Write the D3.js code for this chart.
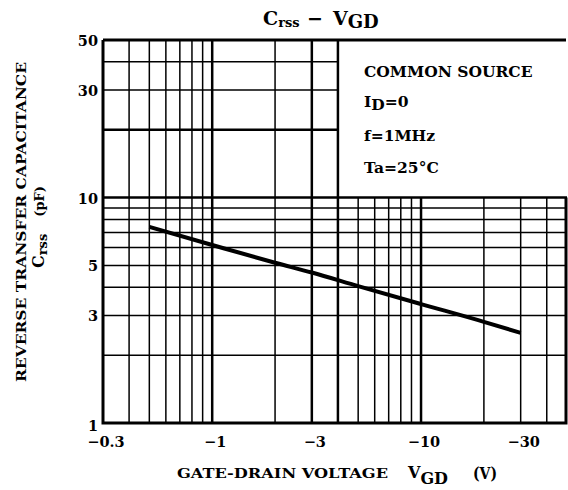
<!DOCTYPE html>
<html>
<head>
<meta charset="utf-8">
<script src="https://d3js.org/d3.v7.min.js"></script>
<style>
  body { margin: 0; background: #fff; }
  text { font-family: "DejaVu Serif", serif; font-weight: bold; fill: #000; }
</style>
</head>
<body>
<div id="chart"></div>
<script>
// data (|VGD| in volts, Crss in pF)
var vgd = [-0.5, -1, -2, -3, -5, -10, -20, -30];
var crss = [7.41, 6.16, 5.14, 4.65, 4.05, 3.37, 2.81, 2.51];

var xTicks = [-0.3, -1, -3, -10, -30];
var yTicks = [1, 3, 5, 10, 30, 50];
var xGrid = [0.4, 0.5, 0.6, 0.7, 0.8, 0.9, 1, 2, 3, 4, 5, 6, 7, 8, 9, 10, 20, 30, 40];
var yGrid = [2, 3, 4, 5, 6, 7, 8, 9, 10, 20, 30, 40];
var xMajor = [1, 3, 10];
var yMajor = [20];
var conditions = ["COMMON SOURCE", "I|D|=0", "f=1MHz", "Ta=25°C"];

var width = 568, height = 490;
var margin = { top: 40, right: 1, bottom: 67, left: 103 };

var svg = d3.select("#chart")
	.append("svg")
	.attr("width", width)
	.attr("height", height);

var x = d3.scaleLog()
	.domain([0.3, 50])
	.range([margin.left, width - margin.right]);
var y = d3.scaleLog()
	.domain([1, 50])
	.range([height - margin.bottom, margin.top]);

// legend box area (no grid there): |VGD| >= 4 and Crss >= 10
var boxX = x(4), boxY = y(10);

var grid = svg.append("g");
xGrid.forEach(function (v) {
	var top = v > 4 ? boxY : margin.top;
	grid.append("line")
		.attr("x1", x(v)).attr("x2", x(v))
		.attr("y1", top).attr("y2", y(1))
		.attr("stroke", "#000")
		.attr("stroke-width", xMajor.indexOf(v) >= 0 || v === 4 ? 2.5 : 1.5);
});
yGrid.forEach(function (c) {
	var right = c > 10 ? boxX : x(50);
	grid.append("line")
		.attr("x1", x(0.3)).attr("x2", right)
		.attr("y1", y(c)).attr("y2", y(c))
		.attr("stroke", "#000")
		.attr("stroke-width", yMajor.indexOf(c) >= 0 || c === 10 ? 2.5 : 1.5);
});

// frame
svg.append("path")
	.attr("d", "M" + x(0.3) + "," + y(50) + "H" + (x(50) - 1) + "M" + x(0.3) + "," + y(50) + "V" + y(1) + "H" + (x(50) - 1) + "V" + y(10))
	.attr("fill", "none")
	.attr("stroke", "#000")
	.attr("stroke-width", 3);

// curve
var pts = vgd.map(function (v, i) { return [Math.abs(v), crss[i]]; });
svg.append("path")
	.datum(pts)
	.attr("d", d3.line()
		.x(function (d) { return x(d[0]); })
		.y(function (d) { return y(d[1]); })
		.curve(d3.curveMonotoneX))
	.attr("fill", "none")
	.attr("stroke", "#000")
	.attr("stroke-width", 4);

// x tick labels
svg.selectAll(".xt")
	.data(xTicks)
	.enter()
	.append("text")
	.attr("x", function (d) { return x(Math.abs(d)) + 3; })
	.attr("y", 447)
	.attr("text-anchor", "middle")
	.style("font-size", "14.5px")
	.text(function (d) { return "\u2212" + Math.abs(d); });

// y tick labels
svg.selectAll(".yt")
	.data(yTicks)
	.enter()
	.append("text")
	.attr("x", 98)
	.attr("y", function (d) { return y(d) + (d === 1 ? 8 : 6); })
	.attr("text-anchor", "end")
	.style("font-size", "14.5px")
	.text(function (d) { return d; });

// title
var title = svg.append("text")
	.attr("y", 25)
	.style("font-size", "19px");
title.append("tspan").attr("x", 263).text("C");
title.append("tspan").attr("dy", 2).style("font-size", "13px").text("rss");
title.append("tspan").attr("x", 307).attr("dy", -2).text("\u2212");
title.append("tspan").attr("x", 333).text("V");
title.append("tspan").attr("dy", 3).style("font-size", "18px").text("GD");

// conditions in the legend box
var condY = [77, 107, 141, 173];
conditions.forEach(function (c, i) {
	var t = svg.append("text")
		.attr("x", 364)
		.attr("y", condY[i])
		.style("font-size", "15.5px");
	var parts = c.split("|");
	t.append("tspan").text(parts[0]);
	if (parts.length > 1) {
		t.append("tspan").attr("dy", 3).text(parts[1]);
		t.append("tspan").attr("dy", -3).text(parts[2]);
	}
});

// x axis title
svg.append("text")
	.attr("x", 177)
	.attr("y", 478)
	.attr("textLength", 211)
	.attr("lengthAdjust", "spacingAndGlyphs")
	.style("font-size", "13px")
	.text("GATE-DRAIN VOLTAGE");
var xv = svg.append("text")
	.attr("x", 408)
	.attr("y", 478)
	.style("font-size", "16px");
xv.append("tspan").text("V");
xv.append("tspan").attr("dy", 6).style("font-size", "16px").text("GD");
svg.append("text")
	.attr("x", 473)
	.attr("y", 479)
	.attr("textLength", 24)
	.attr("lengthAdjust", "spacingAndGlyphs")
	.style("font-size", "16px")
	.text("(V)");

// y axis title
svg.append("text")
	.attr("transform", "translate(26,222) rotate(-90)")
	.attr("text-anchor", "middle")
	.attr("textLength", 320)
	.attr("lengthAdjust", "spacingAndGlyphs")
	.style("font-size", "13.5px")
	.text("REVERSE TRANSFER CAPACITANCE");
var yt = svg.append("text")
	.attr("transform", "translate(44,268) rotate(-90)")
	.style("font-size", "16px");
yt.append("tspan").text("C");
yt.append("tspan").attr("dy", 3).style("font-size", "13px").text("rss");
yt.append("tspan").attr("dy", -3).attr("dx", 17).style("font-size", "13px").text("(pF)");
</script>
</body>
</html>
